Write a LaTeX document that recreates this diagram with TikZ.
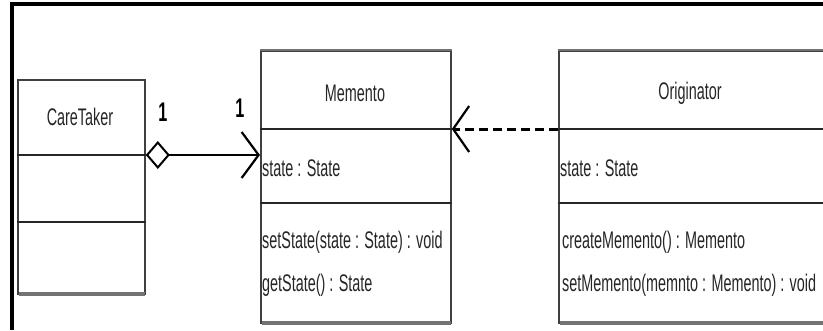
\documentclass[tikz,border=0pt]{standalone}
\usepackage{fontspec}
\setmainfont[FakeStretch=0.6]{Liberation Sans}
\usetikzlibrary{arrows.meta}
\begin{document}
\begin{tikzpicture}[x=1pt,y=-1pt,
  classbox/.style={draw=black!75, line width=1.8pt, fill=white, anchor=north west, inner sep=0pt},
  divider/.style={line width=2.2pt, black!85},
  shadowline/.style={line width=4.5pt, black!55},
  txt/.style={font=\fontsize{24}{26}\selectfont, text=black!85, inner sep=0pt},
  ltxt/.style={txt, anchor=west},
  mult/.style={font=\fontsize{27}{29}\selectfont\bfseries, inner sep=0pt}]
\useasboundingbox (0,0) rectangle (823,330);
% frame
\draw[line width=4pt] (12,330) -- (12,4) -- (823,4);
% CareTaker
\node[classbox, minimum width=127pt, minimum height=214pt] (ct) at (17,79) {};
\draw[shadowline] ([xshift=2pt,yshift=1pt]ct.south west) -- ([xshift=-1pt,yshift=1pt]ct.south east);
\draw[divider] (ct.west |- 0,155) -- (ct.east |- 0,155);
\draw[divider] (ct.west |- 0,222) -- (ct.east |- 0,222);
\node[txt] (ctname) at (80,117) {CareTaker};
% Memento
\node[classbox, minimum width=190pt, minimum height=272pt] (mem) at (260,50) {};
\draw[shadowline] ([xshift=2pt,yshift=1pt]mem.south west) -- ([xshift=-1pt,yshift=1pt]mem.south east);
\draw[line width=2.5pt, black!55] (mem.north west) -- (mem.north east);
\draw[divider] (mem.west |- 0,129) -- (mem.east |- 0,129);
\draw[divider] (mem.west |- 0,203) -- (mem.east |- 0,203);
\node[txt] (memname) at (355,93) {Memento};
\node[ltxt] (mematt) at (262,168) {state : State};
\node[ltxt] (memm1) at (262,242) {setState(state : State) : void};
\node[ltxt] (memm2) at (262,285) {getState() : State};
% Originator
\node[classbox, minimum width=280pt, minimum height=272pt] (org) at (558,50) {};
\draw[shadowline] ([xshift=2pt,yshift=1pt]org.south west) -- ([xshift=-1pt,yshift=1pt]org.south east);
\draw[line width=2.5pt, black!55] (org.north west) -- (org.north east);
\draw[divider] (org.west |- 0,129) -- (org.east |- 0,129);
\draw[divider] (org.west |- 0,203) -- (org.east |- 0,203);
\node[txt] (orgname) at (690,93) {Originator};
\node[ltxt] (orgatt) at (560,168) {state : State};
\node[ltxt] (orgm1) at (562,242) {createMemento() : Memento};
\node[ltxt] (orgm2) at (562,285) {setMemento(memnto : Memento) : void};
% aggregation
\draw[line width=2.4pt, {Diamond[open, length=24pt, width=28pt, line width=2pt]}-{Straight Barb[length=17pt, width=46pt, line width=2.2pt]}]
  (ct.east |- 0,155) -- (mem.west |- 0,155);
\node[mult] (m1) at (163,112) {1};
\node[mult] (m2) at (240,108) {1};
% dependency
\draw[line width=3pt, dash pattern=on 9pt off 5pt, -{Straight Barb[length=16pt, width=46pt, line width=2.2pt]}]
  (org.west |- 0,129) -- (mem.east |- 0,129);
\end{tikzpicture}
\end{document}
